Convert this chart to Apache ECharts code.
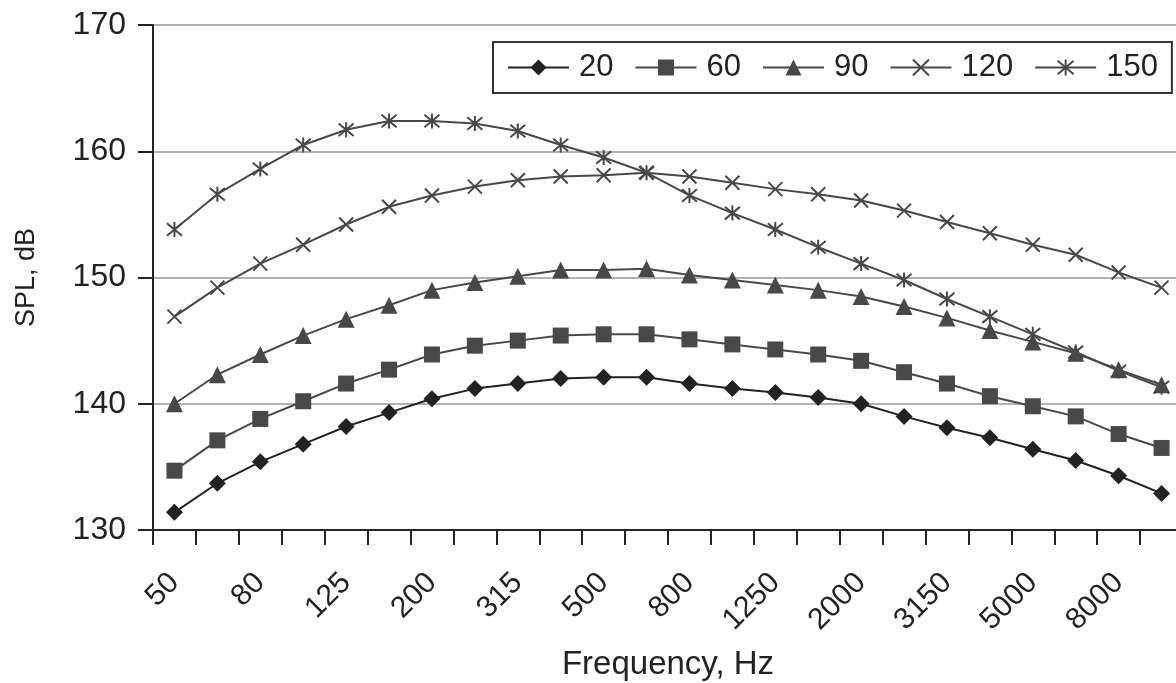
<!DOCTYPE html>
<html>
<head>
<meta charset="utf-8">
<script src="https://cdn.jsdelivr.net/npm/echarts@6/dist/echarts.min.js"></script>
<style>
html,body{margin:0;padding:0;background:#fff;}
#chart{width:1176px;height:683px;}
</style>
</head>
<body>
<div id="chart"></div>
<script>
const categories = ['50','63','80','100','125','160','200','250','315','400','500','630','800','1000','1250','1600','2000','2500','3150','4000','5000','6300','8000','10000'];
const seriesNames = ['20','60','90','120','150'];
const s20 = [131.4,133.7,135.4,136.8,138.2,139.3,140.4,141.2,141.6,142.0,142.1,142.1,141.6,141.2,140.9,140.5,140.0,139.0,138.1,137.3,136.4,135.5,134.3,132.9];
const s60 = [134.7,137.1,138.8,140.2,141.6,142.7,143.9,144.6,145.0,145.4,145.5,145.5,145.1,144.7,144.3,143.9,143.4,142.5,141.6,140.6,139.8,139.0,137.6,136.5];
const s90 = [140.0,142.3,143.9,145.4,146.7,147.8,149.0,149.6,150.1,150.6,150.6,150.7,150.2,149.8,149.4,149.0,148.5,147.7,146.8,145.8,144.9,144.0,142.7,141.5];
const s120 = [146.9,149.2,151.1,152.6,154.2,155.6,156.5,157.2,157.7,158.0,158.1,158.3,158.0,157.5,157.0,156.6,156.1,155.3,154.4,153.5,152.6,151.8,150.4,149.2];
const s150 = [153.8,156.6,158.6,160.5,161.7,162.4,162.4,162.2,161.6,160.5,159.5,158.3,156.5,155.1,153.8,152.4,151.1,149.8,148.3,146.9,145.5,144.1,142.6,141.3];

const FONT = "'Liberation Sans', Arial, sans-serif";
const TXT = '#222';
const xPath = 'path://M0,0L10,10M10,0L0,10';
const starPath = 'path://M0,0L10,10M10,0L0,10M5,-1L5,11';

function mk(name, data, symbol, size, color, stroke) {
  const s = {
    name: name, type: 'line', data: data,
    symbol: symbol, symbolSize: size,
    lineStyle: {color: color, width: 2},
    itemStyle: {color: color},
    emphasis: {disabled: true},
    animation: false
  };
  if (stroke) {
    s.itemStyle = {color: 'rgba(0,0,0,0)', borderColor: color, borderWidth: 2};
  }
  return s;
}

const chart = echarts.init(document.getElementById('chart'));
chart.setOption({
  animation: false,
  textStyle: {fontFamily: FONT},
  grid: {left: 153, top: 25, bottom: 153, right: -7, containLabel: false, outerBoundsMode: 'none'},
  legend: {
    left: 493, top: 42,
    padding: [10, 14, 10, 14],
    borderColor: '#333', borderWidth: 2,
    itemWidth: 61, itemHeight: 20, itemGap: 21,
    textStyle: {fontSize: 31, color: TXT, fontFamily: FONT, padding: [0, 0, 0, 5]},
    data: seriesNames
  },
  xAxis: {
    type: 'category', data: categories, boundaryGap: true,
    name: 'Frequency, Hz', nameLocation: 'middle', nameGap: 118,
    nameTextStyle: {fontSize: 33, color: TXT, fontFamily: FONT},
    axisLine: {lineStyle: {color: '#222', width: 2}},
    axisTick: {show: true, interval: 0, length: 15, lineStyle: {color: '#222', width: 2}},
    axisLabel: {interval: 1, rotate: 45, fontSize: 30, color: TXT, margin: 48, fontFamily: FONT},
    splitLine: {show: false}
  },
  yAxis: {
    type: 'value', min: 130, max: 170, interval: 10,
    name: 'SPL, dB', nameLocation: 'middle', nameGap: 113,
    nameTextStyle: {fontSize: 27, color: TXT, fontFamily: FONT},
    axisLine: {show: true, lineStyle: {color: '#222', width: 2}},
    axisTick: {show: true, length: 15, lineStyle: {color: '#222', width: 2}},
    axisLabel: {fontSize: 32, color: TXT, margin: 27, fontFamily: FONT},
    splitLine: {show: true, lineStyle: {color: '#999', width: 1.5}}
  },
  series: [
    mk(seriesNames[0], s20, 'diamond', 17, '#222'),
    mk(seriesNames[1], s60, 'rect', 16, '#484848'),
    mk(seriesNames[2], s90, 'triangle', 17, '#484848'),
    mk(seriesNames[3], s120, xPath, 14, '#484848', true),
    mk(seriesNames[4], s150, starPath, 15, '#484848', true)
  ]
});
</script>
</body>
</html>
